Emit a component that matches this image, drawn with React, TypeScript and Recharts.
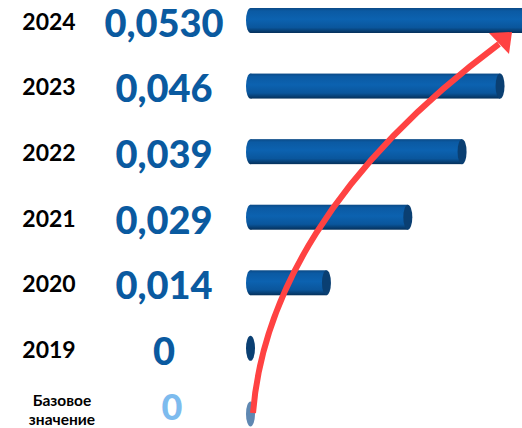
import React from "react";
import { BarChart, Bar, XAxis, YAxis, Cell } from "recharts";

const categories = ["2024", "2023", "2022", "2021", "2020", "2019", "Базовое значение"];
const values = [0.053, 0.046, 0.039, 0.029, 0.014, 0, 0];
const valueLabels = ["0,0530", "0,046", "0,039", "0,029", "0,014", "0", "0"];

const data = categories.map((name, i) => ({ name, value: values[i] }));

const BAR_FILL = "url(#cylGrad)";
const BASE_FILL = "#5f88b2";
const VALUE_COLOR = "#0a5aa0";
const BASE_VALUE_COLOR = "#7dbbee";

const CylShape = (props: any) => {
  const { x, y, width, height, fill } = props;
  const rx = 4.5;
  const ry = height / 2;
  const cy = y + ry;
  const isBase = fill === BASE_FILL;
  if (!width || width < 1) {
    return (
      <ellipse cx={x} cy={cy} rx={rx} ry={ry} fill={isBase ? BASE_FILL : "#0a3f72"} />
    );
  }
  return (
    <g>
      <rect x={x} y={y} width={width} height={height} fill={fill} />
      <ellipse cx={x} cy={cy} rx={rx} ry={ry} fill={fill} />
      <ellipse cx={x + width} cy={cy} rx={rx} ry={ry} fill="#0a3f72" />
    </g>
  );
};

const Tick = (props: any) => {
  const { y, payload, index } = props;
  const isBase = index === categories.length - 1;
  const font = "Lato, 'Open Sans', sans-serif";
  const parts = String(payload.value).split(" ");
  return (
    <g>
      {isBase ? (
        <text fontFamily={font} fontWeight={700} fontSize={15.5} fill="#000" textAnchor="middle">
          <tspan x={62} y={y - 14} dominantBaseline="central">{parts[0]}</tspan>
          <tspan x={62} y={y + 5} dominantBaseline="central">{parts[1]}</tspan>
        </text>
      ) : (
        <text x={49} y={y} fontFamily={font} fontWeight={700} fontSize={23} fill="#000" textAnchor="middle" dominantBaseline="central">
          {payload.value}
        </text>
      )}
      <text
        x={isBase ? 172 : 164}
        y={isBase ? y - 8 : y + 1}
        fontFamily={font}
        fontWeight={900}
        fontSize={isBase ? 36 : 38}
        fill={isBase ? BASE_VALUE_COLOR : VALUE_COLOR}
        textAnchor="middle"
        dominantBaseline="central"
      >
        {valueLabels[index]}
      </text>
    </g>
  );
};

export default function App() {
  return (
    <div style={{ position: "absolute", left: 0, top: 0, width: 522, height: 428, overflow: "hidden", background: "#fff" }}>
      <div style={{ position: "absolute", left: 0, top: -12 }}>
        <BarChart
          width={576}
          height={459}
          data={data}
          layout="vertical"
          margin={{ top: 0, right: 0, bottom: 0, left: 0.5 }}
        >
          <defs>
            <linearGradient id="cylGrad" x1="0" y1="0" x2="0" y2="1">
              <stop offset="0%" stopColor="#0b4a86" />
              <stop offset="12%" stopColor="#0b5aa3" />
              <stop offset="45%" stopColor="#0c62b0" />
              <stop offset="78%" stopColor="#0a569c" />
              <stop offset="100%" stopColor="#05305a" />
            </linearGradient>
          </defs>
          <XAxis type="number" domain={[0, 0.06]} hide />
          <YAxis
            type="category"
            dataKey="name"
            width={250}
            axisLine={false}
            tickLine={false}
            tick={<Tick />}
            interval={0}
          />
          <Bar dataKey="value" barSize={25} shape={<CylShape />} isAnimationActive={false}>
            {data.map((d, i) => (
              <Cell key={d.name} fill={i === categories.length - 1 ? BASE_FILL : BAR_FILL} />
            ))}
          </Bar>
        </BarChart>
      </div>
      <svg width={522} height={428} style={{ position: "absolute", left: 0, top: 0, pointerEvents: "none" }}>
        <path d="M253,413 C262,300 330,170 499,44" fill="none" stroke="#ff4242" strokeWidth={6} />
        <polygon points="512,32 489,33 509,54" fill="#ff4242" />
      </svg>
    </div>
  );
}
